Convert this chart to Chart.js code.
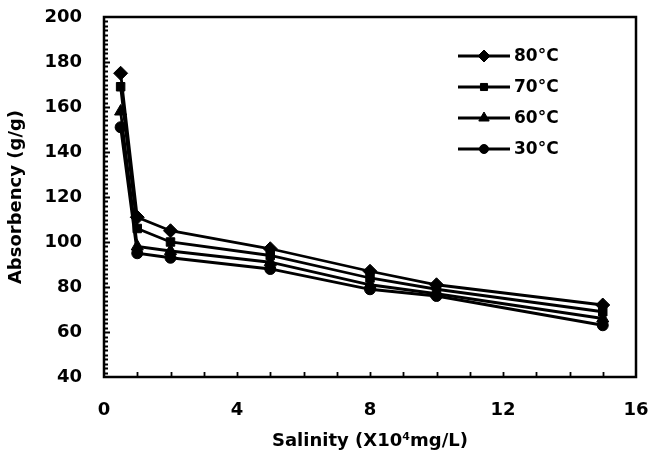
<!DOCTYPE html>
<html>
<head>
<meta charset="utf-8">
<script src="https://cdn.jsdelivr.net/npm/chart.js@4/dist/chart.umd.min.js"></script>
<style>
html,body{margin:0;padding:0;background:#fff;}
#wrap{width:649px;height:461px;position:relative;}
</style>
</head>
<body>
<div id="wrap"><canvas id="c" width="649" height="461"></canvas></div>
<script>
// ---- data ----
const salinity = [0.5, 1, 2, 5, 8, 10, 15];
const seriesLabels = ['80°C', '70°C', '60°C', '30°C'];
const abs80 = [175, 111, 105, 97, 87, 81, 72];
const abs70 = [169, 106, 100, 94, 84, 79, 69];
const abs60 = [158, 98, 96, 91, 81, 77, 66];
const abs30 = [151, 95, 93, 88, 79, 76, 63];
const xTicks = [0, 4, 8, 12, 16];
const yTicks = [40, 60, 80, 100, 120, 140, 160, 180, 200];

const seriesValues = [abs80, abs70, abs60, abs30];
const markers = ['rectRot', 'rect', 'triangle', 'circle'];
const markerSizes = [7, 6, 7, 5.5];

const FONT = "'DejaVu Sans', 'Liberation Sans', Arial, sans-serif";

const datasets = seriesValues.map((vals, i) => ({
  label: seriesLabels[i],
  data: salinity.map((x, j) => ({x: x, y: vals[j]})),
  borderColor: '#000',
  backgroundColor: '#000',
  borderWidth: 2.8,
  pointStyle: markers[i],
  pointRadius: markerSizes[i],
  pointBorderWidth: 1,
  pointBackgroundColor: '#000',
  pointBorderColor: '#000',
  tension: 0
}));

const framePlugin = {
  id: 'frame',
  afterDraw(chart) {
    const ctx = chart.ctx;
    const a = chart.chartArea;
    const xs = chart.scales.x, ys = chart.scales.y;
    ctx.save();
    ctx.strokeStyle = '#000';
    ctx.lineWidth = 2.5;
    ctx.strokeRect(a.left, a.top, a.right - a.left, a.bottom - a.top);
    // inward ticks
    ctx.lineWidth = 1.8;
    ctx.beginPath();
    for (let v = xs.min + 1; v < xs.max; v += 1) {
      const px = Math.round(xs.getPixelForValue(v)) + 0.5;
      ctx.moveTo(px, a.bottom);
      ctx.lineTo(px, a.bottom - 5);
    }
    for (let v = ys.min + 2; v < ys.max; v += 2) {
      const py = Math.round(ys.getPixelForValue(v)) + 0.5;
      const len = (v % 20 === 0) ? 6 : 4;
      ctx.moveTo(a.left, py);
      ctx.lineTo(a.left + len, py);
    }
    ctx.stroke();
    // legend
    const lx0 = 458, lx1 = 510, ty0 = 56, dy = 31;
    ctx.font = "bold 17px " + FONT;
    ctx.textBaseline = 'middle';
    ctx.textAlign = 'left';
    chart.data.datasets.forEach((ds, i) => {
      const y = ty0 + i * dy;
      ctx.strokeStyle = '#000';
      ctx.lineWidth = 2.8;
      ctx.beginPath();
      ctx.moveTo(lx0, y);
      ctx.lineTo(lx1, y);
      ctx.stroke();
      ctx.fillStyle = '#000';
      ctx.lineWidth = 1;
      Chart.helpers.drawPoint(ctx, {pointStyle: ds.pointStyle, radius: ds.pointRadius - 1, rotation: 0, borderWidth: 1}, (lx0 + lx1) / 2, y);
      ctx.fillStyle = '#000';
      ctx.fillText(ds.label, lx1 + 4, y + 1);
    });
    ctx.restore();
  }
};

new Chart(document.getElementById('c'), {
  type: 'line',
  data: { datasets: datasets },
  options: {
    responsive: false,
    animation: false,
    layout: { padding: { top: 17, right: 13, left: 0, bottom: 0 } },
    plugins: { legend: { display: false }, tooltip: { enabled: false } },
    scales: {
      x: {
        type: 'linear',
        min: 0, max: 16,
        afterBuildTicks: (s) => { s.ticks = xTicks.map(v => ({value: v})); },
        afterFit: (s) => { s.height = 84; s.paddingLeft = 0; s.paddingRight = 0; },
        grid: { display: false, drawTicks: false },
        border: { display: false },
        ticks: { color: '#000', padding: 23, font: { family: FONT, size: 18, weight: 'bold' }, maxRotation: 0 },
        title: { display: true, text: 'Salinity (X10⁴mg/L)', color: '#000', padding: { top: 0, bottom: 9 }, font: { family: FONT, size: 18, weight: 'bold' } }
      },
      y: {
        type: 'linear',
        min: 40, max: 200,
        afterBuildTicks: (s) => { s.ticks = yTicks.map(v => ({value: v})); },
        afterFit: (s) => { s.width = 104; s.paddingTop = 0; s.paddingBottom = 0; },
        grid: { display: false, drawTicks: false },
        border: { display: false },
        ticks: { color: '#000', padding: 22, font: { family: FONT, size: 18, weight: 'bold' } },
        title: { display: true, text: 'Absorbency (g/g)', color: '#000', padding: { top: 6, bottom: 0 }, font: { family: FONT, size: 18, weight: 'bold' } }
      }
    }
  },
  plugins: [framePlugin]
});
</script>
</body>
</html>
